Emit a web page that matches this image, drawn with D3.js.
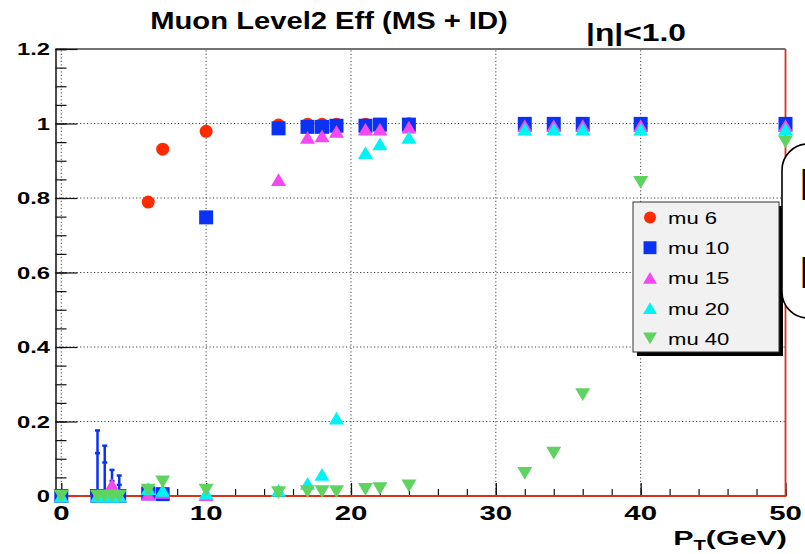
<!DOCTYPE html>
<html>
<head>
<meta charset="utf-8">
<script src="https://cdn.jsdelivr.net/npm/d3@7"></script>
<style>
  html, body { margin: 0; padding: 0; background: #fff; }
  svg { display: block; }
  text { font-family: "Liberation Sans", Arial, Helvetica, sans-serif; }
</style>
</head>
<body>
<svg></svg>
<script>
(function (d3) {
  'use strict';

  // transverse momentum bins (GeV)
  const pt = [0, 2.5, 3, 3.5, 4, 6, 7, 10, 15, 17, 18, 19, 21, 22, 24, 32, 34, 36, 40, 50];

  // efficiencies per trigger threshold
  const mu6  = [0, 0, 0, 0, 0, 0.789, 0.931, 0.979, 0.996, 0.998, 0.998, 0.998, 0.998, 0.998, 0.999, 0.999, 0.999, 0.999, 0.999, 0.999];
  const mu10 = [0, 0, 0, 0, 0, 0.007, 0.005, 0.748, 0.987, 0.991, 0.991, 0.994, 0.994, 0.997, 0.997, 0.999, 0.999, 0.999, 0.999, 0.999];
  const mu15 = [0, 0, 0, 0.03, 0, 0.005, 0.01, 0.004, 0.849, 0.963, 0.967, 0.979, 0.985, 0.985, 0.99, 0.994, 0.994, 0.994, 0.994, 0.994];
  const mu20 = [0, 0, 0, 0, 0, 0.02, 0.015, 0.008, 0.015, 0.034, 0.058, 0.209, 0.922, 0.945, 0.963, 0.985, 0.985, 0.985, 0.985, 0.985];
  const mu40 = [0, 0, 0, 0, 0, 0.016, 0.038, 0.016, 0.009, 0.012, 0.012, 0.012, 0.018, 0.02, 0.027, 0.061, 0.115, 0.272, 0.842, 0.951];

  // upper errors on the low-pT mu10 points (outer and inner caps)
  const mu10ErrHi    = [0, 0.176, 0.135, 0.07, 0.055];
  const mu10ErrInner = [0, 0.115, 0.09, 0.04, 0.03];

  const seriesNames = ['mu 6', 'mu 10', 'mu 15', 'mu 20', 'mu 40'];
  const seriesValues = [mu6, mu10, mu15, mu20, mu40];
  const seriesColors = ['#ff2a00', '#0a32f5', '#f448f4', '#00f4f4', '#5fd35f'];
  const seriesShapes = ['circle', 'square', 'up', 'up', 'down'];

  const xTicks = [0, 10, 20, 30, 40, 50];
  const yTicks = [0, 0.2, 0.4, 0.6, 0.8, 1, 1.2];

  const width = 805;
  const height = 554;
  const stretch = 1.4; // text in the picture is stretched horizontally

  const svg = d3.select('svg')
      .attr('width', width)
      .attr('height', height);

  const x = d3.scaleLinear().domain([-0.4, 50]).range([55.5, 785.5]);
  const y = d3.scaleLinear().domain([0, 1.2]).range([496, 49]);

  // triangle symbols centred on their bounding box, like ROOT markers
  const triUp = {
    draw(ctx, size) {
      const w = Math.sqrt(size), h = w * 0.85;
      ctx.moveTo(0, -h / 2); ctx.lineTo(w / 2, h / 2); ctx.lineTo(-w / 2, h / 2); ctx.closePath();
    }
  };
  const triDown = {
    draw(ctx, size) {
      const w = Math.sqrt(size), h = w * 0.85;
      ctx.moveTo(0, h / 2); ctx.lineTo(w / 2, -h / 2); ctx.lineTo(-w / 2, -h / 2); ctx.closePath();
    }
  };
  const dot = {
    draw(ctx, size) {
      const r = Math.sqrt(size) / 2;
      ctx.moveTo(r, 0);
      ctx.arc(0, 0, r, 0, 2 * Math.PI);
    }
  };
  const shapeType = { circle: dot, square: d3.symbolSquare, up: triUp, down: triDown };
  const shapeSize = { circle: 13 * 13, square: 14 * 14, up: 15 * 15, down: 15 * 15 };
  const symbolPath = (s, k = 1) => d3.symbol().type(shapeType[s]).size(shapeSize[s] * k)();

  function stretchedText(parent, px, py, str, opts) {
    const g = parent.append('g')
        .attr('transform', `translate(${px},${py}) scale(${opts.sx || stretch},1)`);
    return g.append('text')
        .attr('text-anchor', opts.anchor || 'middle')
        .attr('font-size', opts.size)
        .attr('font-weight', opts.weight || 'bold')
        .attr('fill', '#000')
        .text(str);
  }

  // grid
  const grid = svg.append('g');
  grid.selectAll('line.gx').data(xTicks.filter(d => d < 50))
    .enter().append('line')
      .attr('x1', d => x(d)).attr('x2', d => x(d))
      .attr('y1', y(0)).attr('y2', y(1.2))
      .attr('stroke', '#444').attr('stroke-width', 1)
      .attr('stroke-dasharray', '1.2,2.3');
  grid.selectAll('line.gy').data(yTicks.filter(d => d > 0 && d < 1.2))
    .enter().append('line')
      .attr('x1', x(-0.4)).attr('x2', x(50))
      .attr('y1', d => y(d)).attr('y2', d => y(d))
      .attr('stroke', '#444').attr('stroke-width', 1)
      .attr('stroke-dasharray', '1.2,2.3');

  // frame top
  svg.append('line')
      .attr('x1', x(-0.4)).attr('x2', x(50)).attr('y1', y(1.2)).attr('y2', y(1.2))
      .attr('stroke', '#444').attr('stroke-width', 1.3);

  // axes with inward ticks
  const yMinor = d3.range(0, 1.2001, 0.05);
  svg.append('g')
      .attr('transform', `translate(${x(-0.4)},0)`)
      .call(d3.axisLeft(y).tickValues(yMinor).tickSize(-11).tickFormat(''))
      .call(g => g.selectAll('line').attr('stroke', '#111').attr('stroke-width', 1.2))
      .call(g => g.select('.domain').attr('stroke', '#111').attr('stroke-width', 1.5));
  svg.append('g')
      .attr('transform', `translate(${x(-0.4)},0)`)
      .call(d3.axisLeft(y).tickValues(yTicks).tickSize(-22).tickFormat(''))
      .call(g => g.selectAll('line').attr('stroke', '#111').attr('stroke-width', 1.2))
      .call(g => g.select('.domain').remove());

  const xMinor = d3.range(0, 50.001, 2);
  svg.append('g')
      .attr('transform', `translate(0,${y(0)})`)
      .call(d3.axisBottom(x).tickValues(xMinor).tickSize(-7).tickFormat(''))
      .call(g => g.selectAll('line').attr('stroke', '#111').attr('stroke-width', 1.2))
      .call(g => g.select('.domain').remove());
  svg.append('g')
      .attr('transform', `translate(0,${y(0)})`)
      .call(d3.axisBottom(x).tickValues(xTicks).tickSize(-13).tickFormat(''))
      .call(g => g.selectAll('line').attr('stroke', '#111').attr('stroke-width', 1.3))
      .call(g => g.select('.domain').remove());

  // red baseline and right edge
  svg.append('path')
      .attr('d', `M${x(-0.4)},${y(0)}H${x(50)}V${y(1.2)}`)
      .attr('fill', 'none')
      .attr('stroke', '#d4341c').attr('stroke-width', 1.8);

  // tick labels
  yTicks.forEach(t => {
    stretchedText(svg, 50, y(t) + 6, d3.format('~g')(t), { size: 17, anchor: 'end' });
  });
  xTicks.forEach(t => {
    stretchedText(svg, x(t), 520, String(t), { size: 21 });
  });

  // axis title P_T(GeV)
  const xt = stretchedText(svg, 787, 545, '', { size: 21, anchor: 'end', sx: 1.45 });
  xt.append('tspan').text('P');
  xt.append('tspan').attr('font-size', 14).attr('dy', 5).text('T');
  xt.append('tspan').attr('dy', -5).text('(GeV)');

  // titles
  stretchedText(svg, 329, 29, 'Muon Level2 Eff (MS + ID)', { size: 23, sx: 1.27 });
  stretchedText(svg, 636, 41, '|\u03b7|<1.0', { size: 23, sx: 1.38 });

  // error bars for low-pT mu10 points
  const err = svg.append('g').attr('stroke', seriesColors[1]).attr('stroke-width', 2.5);
  mu10ErrHi.forEach((e, i) => {
    if (!e) return;
    const cx = x(pt[i]);
    err.append('line').attr('x1', cx).attr('x2', cx).attr('y1', y(mu10[i])).attr('y2', y(mu10[i] + e));
    err.append('line').attr('x1', cx - 2.5).attr('x2', cx + 2.5).attr('y1', y(mu10[i] + e)).attr('y2', y(mu10[i] + e));
    const ei = mu10ErrInner[i];
    err.append('line').attr('x1', cx - 2.5).attr('x2', cx + 2.5).attr('y1', y(mu10[i] + ei)).attr('y2', y(mu10[i] + ei));
  });

  // markers
  seriesValues.forEach((vals, s) => {
    svg.append('g').selectAll('path')
      .data(vals.map((v, i) => ({ x: pt[i], y: v })))
      .enter().append('path')
        .attr('transform', d => `translate(${x(d.x)},${y(d.y)})`)
        .attr('d', symbolPath(seriesShapes[s]))
        .attr('fill', seriesColors[s]);
  });

  // legend
  const lg = svg.append('g').attr('transform', 'translate(633,202)');
  lg.append('rect')
      .attr('x', 4).attr('y', 4).attr('width', 146).attr('height', 150)
      .attr('fill', '#000');
  lg.append('rect')
      .attr('x', 0).attr('y', 0).attr('width', 146).attr('height', 150)
      .attr('fill', '#f1f1f1').attr('stroke', '#333').attr('stroke-width', 1);
  seriesNames.forEach((name, s) => {
    const ly = 15.5 + s * 30.2;
    lg.append('path')
        .attr('transform', `translate(17,${ly})`)
        .attr('d', symbolPath(seriesShapes[s], 0.85))
        .attr('fill', seriesColors[s]);
    stretchedText(lg, 35, ly + 6.5, name, { size: 17, anchor: 'start', weight: 'normal', sx: 1.3 });
  });

  // partly visible rounded box at the right edge (cut by the picture border)
  svg.append('rect')
      .attr('x', 782).attr('y', 144).attr('width', 80).attr('height', 174)
      .attr('rx', 26).attr('ry', 26)
      .attr('fill', '#fff').attr('stroke', '#000').attr('stroke-width', 1.6);
  svg.append('text').attr('x', 799).attr('y', 200).attr('font-size', 44).text('L2');
  svg.append('text').attr('x', 799).attr('y', 288).attr('font-size', 44).text('MS');

}(d3));
</script>
</body>
</html>
